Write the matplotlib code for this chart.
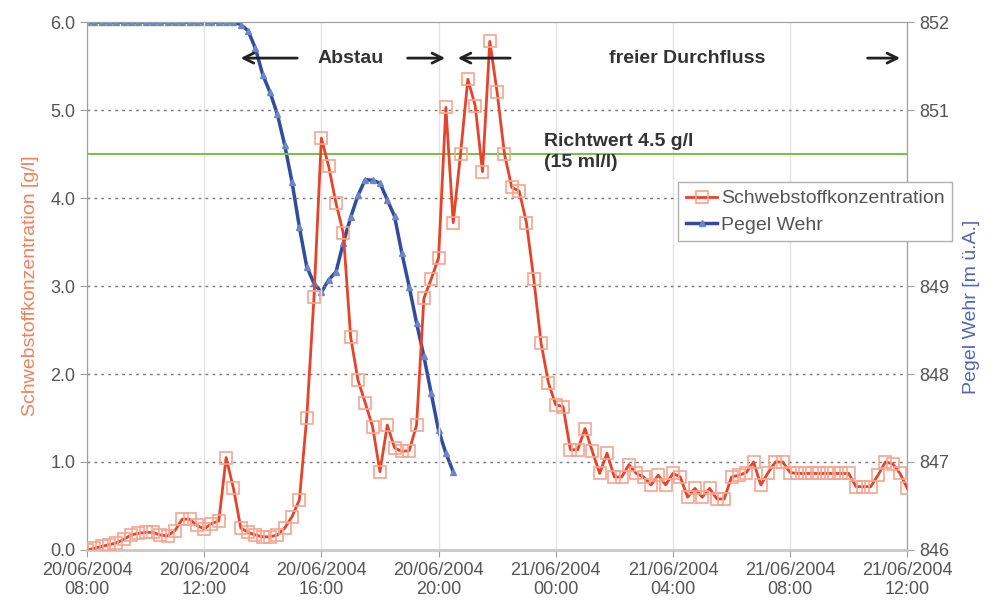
import numpy as np
import pandas as pd
import matplotlib
matplotlib.use("Agg")
import matplotlib.pyplot as plt
import matplotlib.dates as mdates

plt.rcParams['font.family'] = ['Liberation Sans', 'DejaVu Sans']

# 15 minute samples, 20/06/2004 08:00 to 21/06/2004 12:00
t_start = pd.Timestamp('2004-06-20 08:00')

# Schwebstoffkonzentration [g/l]
konz = [0.0, 0.02, 0.04, 0.06, 0.08, 0.12, 0.17, 0.19, 0.2, 0.2,
        0.17, 0.16, 0.22, 0.35, 0.35, 0.28, 0.24, 0.3, 0.33, 1.05,
        0.7, 0.25, 0.2, 0.17, 0.15, 0.15, 0.17, 0.25, 0.38, 0.57,
        1.5, 2.88, 4.68, 4.36, 3.94, 3.6, 2.42, 1.93, 1.67, 1.4,
        0.89, 1.42, 1.16, 1.12, 1.13, 1.42, 2.86, 3.08, 3.32, 5.03,
        3.72, 4.5, 5.35, 5.05, 4.3, 5.78, 5.2, 4.5, 4.12, 4.08,
        3.72, 3.08, 2.35, 1.9, 1.65, 1.63, 1.14, 1.14, 1.38, 1.12,
        0.87, 1.1, 0.83, 0.83, 0.97, 0.87, 0.83, 0.74, 0.85, 0.74,
        0.87, 0.83, 0.6, 0.7, 0.6, 0.7, 0.58, 0.58, 0.83, 0.85,
        0.88, 1.0, 0.74, 0.88, 1.0, 1.0, 0.88, 0.87, 0.87, 0.87,
        0.87, 0.87, 0.87, 0.87, 0.87, 0.72, 0.72, 0.72, 0.85, 1.0,
        0.98, 0.87, 0.7]

# Pegel Wehr [m ü.A.]
pegel = [852.0] * 21 + [
        851.97, 851.9, 851.7, 851.4, 851.2, 850.95, 850.6, 850.18, 849.67, 849.22,
        849.03, 848.93, 849.07, 849.16, 849.49, 849.78, 850.03, 850.21, 850.2, 850.17,
        849.98, 849.79, 849.37, 848.99, 848.58, 848.2, 847.78, 847.36, 847.1, 846.89]

richtwert = 4.5

t_konz = pd.date_range(t_start, periods=len(konz), freq='15min')
t_pegel = pd.date_range(t_start, periods=len(pegel), freq='15min')

red = '#e5432a'
blue = '#2f4c9e'
txt = '#333333'

fig = plt.figure(figsize=(9.86, 6.15), dpi=100)
ax = fig.add_axes([0.0882, 0.1057, 0.832, 0.8585])
ax2 = ax.twinx()
ax.set_zorder(ax2.get_zorder() + 1)
ax.patch.set_visible(False)

# grid
for v in [1, 2, 3, 4, 5]:
    ax.axhline(v, color='#777777', lw=1, ls=(0, (2, 3)), zorder=1)
ax.axhline(richtwert, color='#7cc04a', lw=1.5, zorder=2)

l2, = ax2.plot(t_pegel, pegel, color=blue, lw=2.5, marker='^', ms=4,
               mfc='#6d86c8', mec='#6d86c8', label='Pegel Wehr')
l1, = ax.plot(t_konz, konz, color=red, lw=2, marker='s', ms=8,
              mfc='none', mec='#f5a590', mew=1.2, label='Schwebstoffkonzentration', zorder=3)

ax.set_ylim(0, 6)
ax2.set_ylim(846, 852)
ax.set_yticks(np.arange(0, 6.1, 1))
ax.set_yticklabels([f'{v:.1f}' for v in np.arange(0, 6.1, 1)])
ax2.set_yticks(np.arange(846, 853, 1))
# the 850 label sits behind the legend
ax2.set_yticklabels(['846', '847', '848', '849', '', '851', '852'])

x0 = t_start
x1 = t_start + pd.Timedelta(hours=28)
ax.set_xlim(x0, x1)
ax.xaxis.set_major_locator(mdates.HourLocator(byhour=[0, 4, 8, 12, 16, 20]))
ax.xaxis.set_major_formatter(mdates.DateFormatter('%d/%m/%Y\n%H:%M'))
ax2.xaxis.grid(False)
ax.xaxis.grid(True, color='#e4e4e4', lw=1)
ax.set_axisbelow(True)

for a in (ax, ax2):
    for s in a.spines.values():
        s.set_color('#a0a0a0')
    a.tick_params(colors='#a0a0a0', labelcolor='#555555', labelsize=13, length=5)
ax.spines['bottom'].set_color('#c8c8c8')
ax.spines['bottom'].set_linewidth(2)

ax.set_ylabel('Schwebstoffkonzentration [g/l]', color='#f08060', fontsize=14, labelpad=8)
ax2.set_ylabel('Pegel Wehr [m ü.A.]', color='#5565b5', fontsize=14)
ax2.yaxis.set_label_coords(1.068, 0.46)

# annotations
h = lambda x: t_start + pd.Timedelta(hours=x)
y_arr = 5.59
arrows = [(7.27, 5.15), (10.85, 12.32), (14.54, 12.56), (26.55, 27.85)]
for tail, head in arrows:
    ax.annotate('', xy=(h(head), y_arr), xytext=(h(tail), y_arr),
                arrowprops=dict(arrowstyle='->', color='#222222', lw=2, mutation_scale=18))
ax.text(h(9.0), y_arr, 'Abstau', ha='center', va='center', fontsize=14,
        fontweight='bold', color=txt)
ax.text(h(20.5), y_arr, 'freier Durchfluss', ha='center', va='center', fontsize=14,
        fontweight='bold', color=txt)
ax.text(h(15.6), 4.64, 'Richtwert 4.5 g/l', ha='left', va='center', fontsize=14,
        fontweight='bold', color=txt)
ax.text(h(15.6), 4.4, '(15 ml/l)', ha='left', va='center', fontsize=14,
        fontweight='bold', color=txt)

leg = ax.legend(handles=[l1, l2], loc='upper left', bbox_to_anchor=(0.678, 0.72),
                bbox_transform=fig.transFigure, fontsize=14, fancybox=False,
                framealpha=1, edgecolor='#b0b0b0', handlelength=1.6,
                handletextpad=0.2, borderpad=0.4, labelspacing=0.45)
leg.get_frame().set_linewidth(1)
for text in leg.get_texts():
    text.set_color('#555555')

fig.savefig('out.png', dpi=100)
